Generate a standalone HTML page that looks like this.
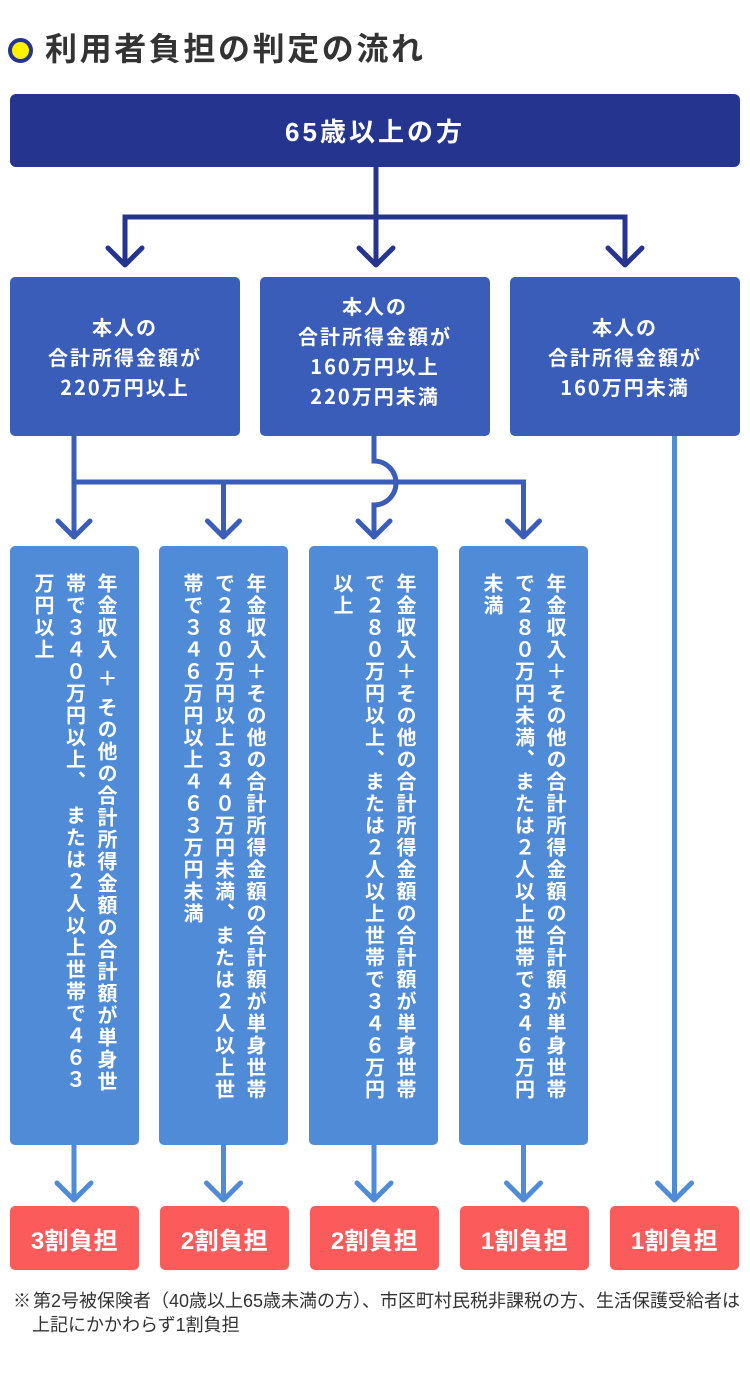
<!DOCTYPE html>
<html lang="ja">
<head>
<meta charset="utf-8">
<style>
  html,body{margin:0;padding:0;background:#fff;}
  body{width:750px;height:1376px;position:relative;overflow:hidden;
       font-family:"Liberation Sans","Noto Sans CJK JP",sans-serif;}
  .abs{position:absolute;}
  .dot{left:8px;top:38px;width:25px;height:25px;box-sizing:border-box;border:4px solid #25358f;background:#fff200;border-radius:50%;}
  .title{left:45px;top:29px;font-size:32px;line-height:40px;font-weight:700;color:#333;letter-spacing:2.6px;white-space:nowrap;}
  .top{left:10px;top:94px;width:730px;height:73px;background:#25358f;border-radius:6px;color:#fff;
       font-weight:700;font-size:26px;letter-spacing:3px;display:flex;align-items:center;justify-content:center;}
  .l2{top:277px;width:230px;height:159px;background:#395db9;border-radius:5px;color:#fff;font-weight:700;
      font-size:20px;letter-spacing:2px;line-height:30px;text-align:center;box-sizing:border-box;white-space:nowrap;
      font-family:"Noto Sans CJK JP","Liberation Sans",sans-serif;}
  .l3{top:546px;width:129px;height:599px;background:#508bd8;border-radius:5px;color:#fff;font-weight:700;
      font-size:20px;letter-spacing:2px;line-height:31.5px;writing-mode:vertical-rl;box-sizing:border-box;
      padding-right:19px;padding-top:27px;white-space:nowrap;}
  .red{top:1206px;width:129px;height:64px;background:#fb5b5b;border-radius:5px;color:#fff;font-weight:700;
       font-size:24px;letter-spacing:0.5px;display:flex;align-items:center;justify-content:center;}
  .note{font-size:18px;line-height:24px;color:#333;white-space:nowrap;}
  .gp{padding-top:7px;padding-bottom:7px;}
  .ga{padding-bottom:12px;}
</style>
</head>
<body>
<div class="abs dot"></div>
<div class="abs title">利用者負担の判定の流れ</div>

<div class="abs top">65歳以上の方</div>

<svg class="abs" style="left:0;top:0" width="750" height="1376" viewBox="0 0 750 1376">
  <g fill="none" stroke="#25358f" stroke-width="5">
    <path d="M125,263 V217 H625 V263"/>
    <path d="M376,167 V263"/>
    <g stroke-linecap="round" stroke-linejoin="round">
      <path d="M108,248 L125,265 L142,248"/>
      <path d="M359,248 L376,265 L393,248"/>
      <path d="M608,248 L625,265 L642,248"/>
    </g>
  </g>
  <g fill="none" stroke="#395db9" stroke-width="5">
    <path d="M74,436 V535"/>
    <path d="M74,482 H523.5 V535"/>
    <path d="M223.5,482 V535"/>
    <path d="M374,436 V461 A22,22 0 0 1 374,505 V535"/>
    <g stroke-linecap="round" stroke-linejoin="round">
      <path d="M58,521 L74,537 L90,521"/>
      <path d="M207.5,521 L223.5,537 L239.5,521"/>
      <path d="M358,521 L374,537 L390,521"/>
      <path d="M507.5,521 L523.5,537 L539.5,521"/>
    </g>
  </g>
  <g fill="none" stroke="#508bd8" stroke-width="5">
    <path d="M674.5,436 V1198"/>
    <path d="M74,1145 V1198"/>
    <path d="M223.5,1145 V1198"/>
    <path d="M374,1145 V1198"/>
    <path d="M523.5,1145 V1198"/>
    <g stroke-linecap="round" stroke-linejoin="round">
      <path d="M57,1183 L74,1200 L91,1183"/>
      <path d="M206.5,1183 L223.5,1200 L240.5,1183"/>
      <path d="M357,1183 L374,1200 L391,1183"/>
      <path d="M506.5,1183 L523.5,1200 L540.5,1183"/>
      <path d="M657.5,1183 L674.5,1200 L691.5,1183"/>
    </g>
  </g>
</svg>

<div class="abs l2" style="left:10px;padding-top:35px;">本人の<br>合計所得金額が<br>220万円以上</div>
<div class="abs l2" style="left:260px;padding-top:14px;">本人の<br>合計所得金額が<br>160万円以上<br>220万円未満</div>
<div class="abs l2" style="left:510px;padding-top:35px;">本人の<br>合計所得金額が<br>160万円未満</div>

<div class="abs l3" style="left:10px;">年金収入<span class="gp">＋</span>その他の合計所得金額の合計額が単身世<br>帯で３４０万円以上<span class="ga">、</span>または２人以上世帯で４６３<br>万円以上</div>
<div class="abs l3" style="left:159px;">年金収入＋その他の合計所得金額の合計額が単身世帯<br>で２８０万円以上３４０万円未満、または２人以上世<br>帯で３４６万円以上４６３万円未満</div>
<div class="abs l3" style="left:309px;">年金収入＋その他の合計所得金額の合計額が単身世帯<br>で２８０万円以上、または２人以上世帯で３４６万円<br>以上</div>
<div class="abs l3" style="left:459px;">年金収入＋その他の合計所得金額の合計額が単身世帯<br>で２８０万円未満、または２人以上世帯で３４６万円<br>未満</div>

<div class="abs red" style="left:10px;">3割負担</div>
<div class="abs red" style="left:160px;">2割負担</div>
<div class="abs red" style="left:310px;">2割負担</div>
<div class="abs red" style="left:460px;">1割負担</div>
<div class="abs red" style="left:610px;">1割負担</div>

<div class="abs note" style="left:13px;top:1289px;">※</div>
<div class="abs note" style="left:33px;top:1289px;">第2号被保険者（40歳以上65歳未満の方）、市区町村民税非課税の方、生活保護受給者は</div>
<div class="abs note" style="left:32px;top:1313px;">上記にかかわらず1割負担</div>
</body>
</html>
